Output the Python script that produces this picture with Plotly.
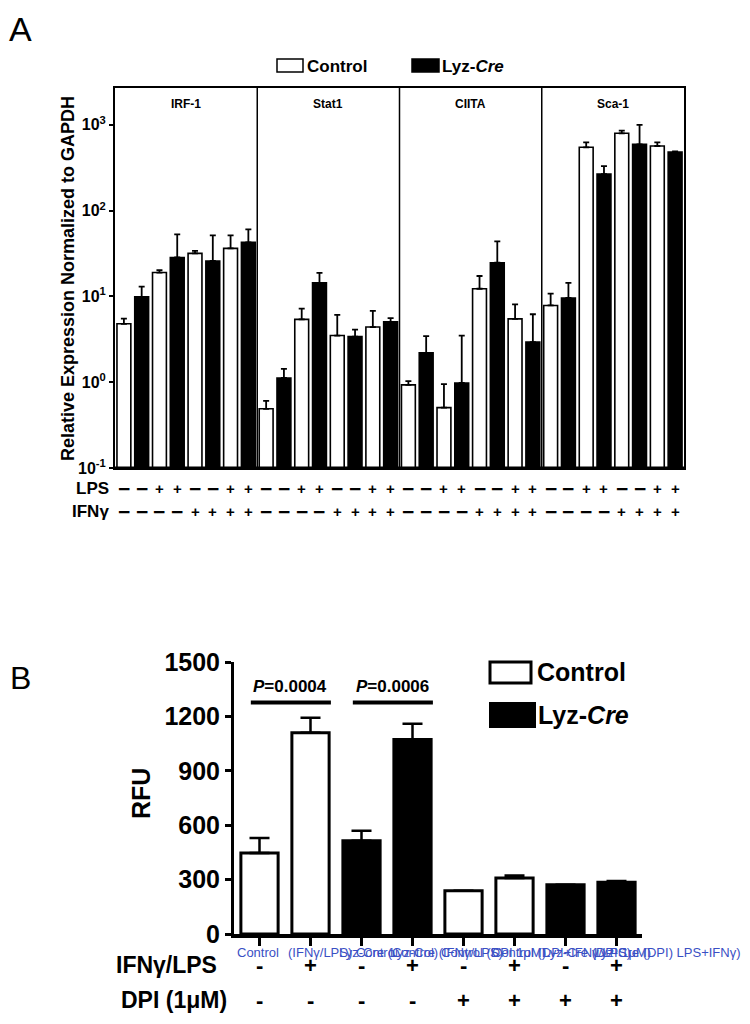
import plotly.graph_objects as go

# ---------------- Panel A data ----------------
genes = ["IRF-1", "Stat1", "CIITA", "Sca-1"]
lps_row = ["-", "-", "+", "+", "-", "-", "+", "+"]
ifn_row = ["-", "-", "-", "-", "+", "+", "+", "+"]

# values per gene, 4 conditions: (LPS-,IFN-), (LPS+,IFN-), (LPS-,IFN+), (LPS+,IFN+)
ctrl_irf1 = [4.8, 19, 31.8, 36.3]
lyz_irf1 = [9.9, 28.5, 25.9, 42.7]
ctrl_stat1 = [0.49, 5.4, 3.5, 4.4]
lyz_stat1 = [1.12, 14.4, 3.4, 5.06]
ctrl_ciita = [0.93, 0.506, 12.3, 5.48]
lyz_ciita = [2.2, 0.98, 24.7, 2.93]
ctrl_sca1 = [7.85, 548, 798, 567]
lyz_sca1 = [9.6, 267, 594, 483]

ctrl_irf1_sem = [0.7, 1.3, 2.2, 15.2]
lyz_irf1_sem = [3.1, 24.3, 25.6, 17.8]
ctrl_stat1_sem = [0.115, 1.8, 2.6, 2.4]
lyz_stat1_sem = [0.31, 4.4, 0.7, 0.54]
ctrl_ciita_sem = [0.10, 0.444, 5.0, 2.62]
lyz_ciita_sem = [1.24, 2.52, 19.1, 3.27]
ctrl_sca1_sem = [2.95, 79, 59, 60]
lyz_sca1_sem = [4.8, 64, 408, 9]

ctrl_A = [ctrl_irf1, ctrl_stat1, ctrl_ciita, ctrl_sca1]
lyz_A = [lyz_irf1, lyz_stat1, lyz_ciita, lyz_sca1]
ctrl_A_sem = [ctrl_irf1_sem, ctrl_stat1_sem, ctrl_ciita_sem, ctrl_sca1_sem]
lyz_A_sem = [lyz_irf1_sem, lyz_stat1_sem, lyz_ciita_sem, lyz_sca1_sem]

a_tickvals = [0.1, 1, 10, 100, 1000]
a_ticktext = ["10<sup>-1</sup>", "10<sup>0</sup>", "10<sup>1</sup>", "10<sup>2</sup>", "10<sup>3</sup>"]

# ---------------- Panel B data ----------------
b_labels = ["Control", "(IFNγ/LPS) Control", "Lyz-Cre (Control)", "Lyz-Cre (IFNγ/LPS)",
            "Control (DPI 1μM)", "Control (DPI+IFNγ/LPS)", "Lyz-Cre (DPI 1μM)", "Lyz-Cre (DPI) LPS+IFNγ)"]
b_genotype = ["Control", "Control", "Lyz-Cre", "Lyz-Cre", "Control", "Control", "Lyz-Cre", "Lyz-Cre"]
b_values = [447, 1110, 514, 1072, 238, 309, 272, 285]
b_sem = [83, 83, 55, 88, 0, 13, 0, 7]
b_ifnlps = ["-", "+", "-", "+", "-", "+", "-", "+"]
b_dpi = ["-", "-", "-", "-", "+", "+", "+", "+"]
b_ticks = [0, 300, 600, 900, 1200, 1500]
p_texts = ["0.0004", "0.0006"]

FONT = "Liberation Sans"
W, H = 750, 1024
OFF = 8  # page body margin


def px(x):
    return (x - OFF) / W


def py(y):
    return 1 - (y - OFF) / H


def A(**kw):
    d = dict(showarrow=False, xanchor="center", yanchor="middle")
    d.update(kw)
    return d


fig = go.Figure()

# ---- Panel A bars ----
cx, cy, ce, lx, ly, le = [], [], [], [], [], []
for g in range(len(genes)):
    for c in range(4):
        cx.append(g * 8 + c * 2)
        cy.append(ctrl_A[g][c])
        ce.append(ctrl_A_sem[g][c])
        lx.append(g * 8 + c * 2 + 1)
        ly.append(lyz_A[g][c])
        le.append(lyz_A_sem[g][c])

fig.add_trace(go.Bar(x=cx, y=cy, width=0.78, marker=dict(color="white", line=dict(color="black", width=1.6)),
                     error_y=dict(type="data", symmetric=False, array=ce, arrayminus=[0] * len(ce),
                                  color="black", thickness=1.8, width=3),
                     xaxis="x", yaxis="y", name="Control"))
fig.add_trace(go.Bar(x=lx, y=ly, width=0.78, marker=dict(color="black", line=dict(color="black", width=1.6)),
                     error_y=dict(type="data", symmetric=False, array=le, arrayminus=[0] * len(le),
                                  color="black", thickness=1.8, width=3),
                     xaxis="x", yaxis="y", name="Lyz-Cre"))

# ---- Panel B bars ----
bcx = [i for i, g in enumerate(b_genotype) if g == "Control"]
blx = [i for i, g in enumerate(b_genotype) if g == "Lyz-Cre"]
fig.add_trace(go.Bar(x=bcx, y=[b_values[i] for i in bcx], width=0.73,
                     marker=dict(color="white", line=dict(color="black", width=3)),
                     error_y=dict(type="data", symmetric=False, array=[b_sem[i] for i in bcx],
                                  arrayminus=[0] * len(bcx), color="black", thickness=2.5, width=10),
                     xaxis="x2", yaxis="y2"))
fig.add_trace(go.Bar(x=blx, y=[b_values[i] for i in blx], width=0.73,
                     marker=dict(color="black", line=dict(color="black", width=3)),
                     error_y=dict(type="data", symmetric=False, array=[b_sem[i] for i in blx],
                                  arrayminus=[0] * len(blx), color="black", thickness=2.5, width=10),
                     xaxis="x2", yaxis="y2"))

shapes = []
ann = []

# panel A frame extras
for d in [7.5, 15.5, 23.5]:
    shapes.append(dict(type="line", xref="x", yref="y domain", x0=d, x1=d, y0=0, y1=1,
                       line=dict(color="black", width=1.5)))
shapes.append(dict(type="line", xref="x domain", yref="y domain", x0=0, x1=1, y0=0, y1=0,
                   line=dict(color="black", width=3)))

for g, name in enumerate(genes):
    ann.append(A(x=g * 8 + 3.5, y=py(104), xref="x", yref="paper", text=f"<b>{name}</b>",
                 font=dict(family=FONT, size=12, color="black")))

# LPS / IFN rows
ann.append(A(x=px(111), y=py(488), xref="paper", yref="paper", text="<b>LPS</b>", xanchor="right",
             font=dict(family=FONT, size=17, color="black")))
ann.append(A(x=px(111), y=py(511), xref="paper", yref="paper", text="<b>IFNγ</b>", xanchor="right",
             font=dict(family=FONT, size=17, color="black")))
for g in range(len(genes)):
    for k in range(8):
        xi = g * 8 + k
        for row, yy in ((lps_row, 488), (ifn_row, 511)):
            s = row[k]
            ann.append(A(x=xi, y=py(yy), xref="x", yref="paper",
                         text="<b>+</b>" if s == "+" else "<b>−</b>",
                         font=dict(family=FONT, size=15 if s == "+" else 21, color="black")))

# Y title A
ann.append(A(x=px(68), y=py(279), xref="paper", yref="paper",
             text="<b>Relative Expression Normalized to GAPDH</b>", textangle=-90,
             font=dict(family=FONT, size=18, color="black")))

# Legend A
shapes.append(dict(type="rect", xref="paper", yref="paper", x0=px(277), x1=px(303), y0=py(72), y1=py(59),
                   line=dict(color="black", width=1.5), fillcolor="white"))
ann.append(A(x=px(305), y=py(66), xref="paper", yref="paper", text="<b>Control</b>", xanchor="left",
             font=dict(family=FONT, size=17, color="black")))
shapes.append(dict(type="rect", xref="paper", yref="paper", x0=px(412), x1=px(439), y0=py(72), y1=py(59),
                   line=dict(color="black", width=1.5), fillcolor="black"))
ann.append(A(x=px(440), y=py(66), xref="paper", yref="paper", text="<b>Lyz-<i>Cre</i></b>", xanchor="left",
             font=dict(family=FONT, size=17, color="black")))

# Panel letters
ann.append(A(x=px(20), y=py(OFF), xref="paper", yref="paper", text="A", yanchor="top",
             font=dict(family=FONT, size=34, color="black")))
ann.append(A(x=px(20), y=py(678), xref="paper", yref="paper", text="B",
             font=dict(family=FONT, size=32, color="black")))

# ---- Panel B annotations ----
pairs = [(0, 1), (2, 3)]
for (a, b), pt in zip(pairs, p_texts):
    shapes.append(dict(type="line", xref="x2", yref="y2", x0=a - 0.17, x1=b + 0.4, y0=1276, y1=1276,
                       line=dict(color="black", width=4)))
    ann.append(A(x=(a + b) / 2 + 0.1, y=1365, xref="x2", yref="y2", text=f"<b><i>P</i>={pt}</b>",
                 font=dict(family=FONT, size=17, color="black")))

# Legend B
shapes.append(dict(type="rect", xref="paper", yref="paper", x0=px(490), x1=px(531), y0=py(683), y1=py(662),
                   line=dict(color="black", width=3), fillcolor="white"))
ann.append(A(x=px(535), y=py(672), xref="paper", yref="paper", text="<b>Control</b>", xanchor="left",
             font=dict(family=FONT, size=25, color="black")))
shapes.append(dict(type="rect", xref="paper", yref="paper", x0=px(490), x1=px(535), y0=py(727), y1=py(703),
                   line=dict(color="black", width=2), fillcolor="black"))
ann.append(A(x=px(536), y=py(715), xref="paper", yref="paper", text="<b>Lyz-<i>Cre</i></b>", xanchor="left",
             font=dict(family=FONT, size=25, color="black")))

# RFU
ann.append(A(x=px(141), y=py(794), xref="paper", yref="paper", text="<b>RFU</b>", textangle=-90,
             font=dict(family=FONT, size=25, color="black")))

# garbled category labels
for i, lab in enumerate(b_labels):
    ann.append(A(x=i - 0.48, y=py(952), xref="x2", yref="paper", text=lab, xanchor="left",
                 font=dict(family=FONT, size=13, color="#3a4fc4")))

# IFN/LPS, DPI rows
ann.append(A(x=px(219), y=py(965), xref="paper", yref="paper", text="<b>IFNγ/LPS</b>", xanchor="right",
             font=dict(family=FONT, size=23, color="black")))
ann.append(A(x=px(229), y=py(1000), xref="paper", yref="paper", text="<b>DPI (1μM)</b>", xanchor="right",
             font=dict(family=FONT, size=23, color="black")))
for i in range(len(b_values)):
    for row, yy in ((b_ifnlps, 965), (b_dpi, 1000)):
        ann.append(A(x=i, y=py(yy), xref="x2", yref="paper", text=f"<b>{row[i]}</b>",
                     font=dict(family=FONT, size=22, color="black")))

fig.update_layout(
    width=W, height=H, margin=dict(l=0, r=0, t=0, b=0, autoexpand=False),
    paper_bgcolor="white", plot_bgcolor="white", showlegend=False, barmode="overlay",
    shapes=shapes, annotations=ann,
    xaxis=dict(domain=[px(115), px(684)], range=[-0.5, 31.5], showticklabels=False, ticks="",
               showgrid=False, zeroline=False, showline=True, mirror=True, linecolor="black", linewidth=2,
               anchor="y"),
    yaxis=dict(domain=[py(468), py(88)], type="log", range=[-1, 3.43], tickvals=a_tickvals,
               ticktext=a_ticktext, ticks="outside", ticklen=4, tickwidth=1.5, tickcolor="black",
               tickfont=dict(family=FONT, size=16, color="black", weight="bold"),
               showgrid=False, zeroline=False, showline=True, mirror=True, linecolor="black", linewidth=2,
               anchor="x"),
    xaxis2=dict(domain=[px(234), px(642)], range=[-0.5, 7.5], tickvals=list(range(8)),
                showticklabels=False, ticks="outside", ticklen=8, tickwidth=2.5, tickcolor="black",
                showgrid=False, zeroline=False, showline=True, linecolor="black", linewidth=4, anchor="y2"),
    yaxis2=dict(domain=[py(934), py(662)], range=[0, 1500], tickvals=b_ticks, ticks="outside", ticklen=6,
                tickwidth=3, tickcolor="black",
                tickfont=dict(family=FONT, size=25, color="black", weight="bold"),
                showgrid=False, zeroline=False, showline=True, linecolor="black", linewidth=3, anchor="x2"),
)

fig.write_html("out.html")
